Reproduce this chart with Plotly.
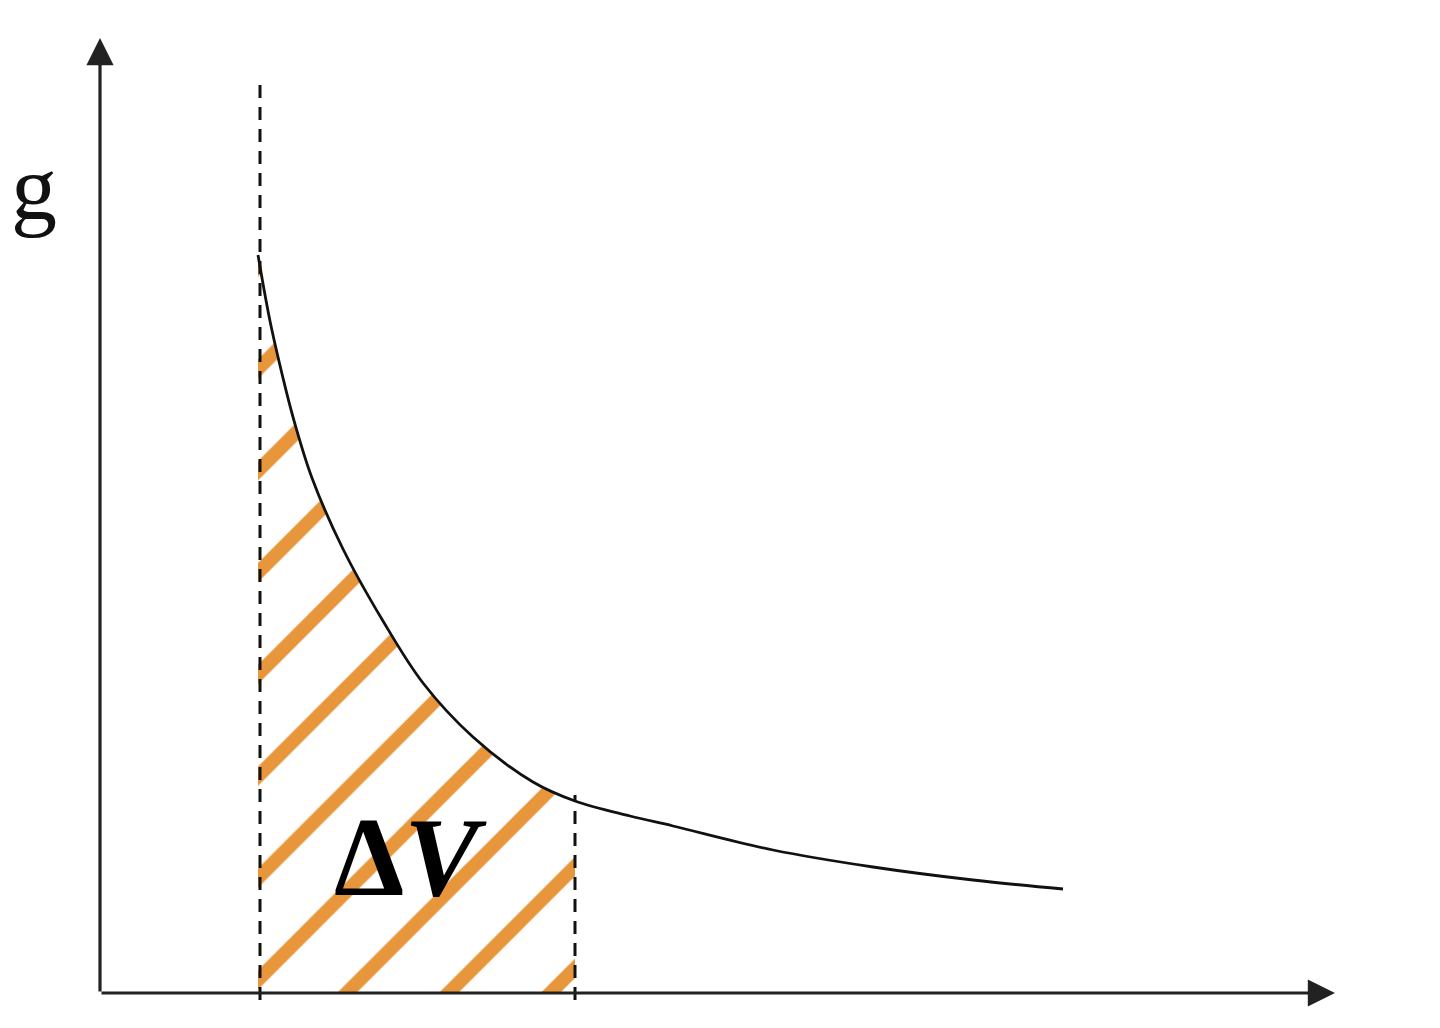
import plotly.graph_objects as go

# curve g(V) (arbitrary units)
V_CURVE = [1.58, 1.70, 1.83, 1.93, 2.12, 2.43, 2.83, 3.23, 3.73, 4.33, 4.75,
           5.30, 5.73, 6.73, 7.73, 8.73, 9.63]
G_CURVE = [7.38, 6.72, 6.15, 5.76, 5.15, 4.44, 3.72, 3.10, 2.56, 2.11, 1.92,
           1.77, 1.67, 1.43, 1.26, 1.13, 1.04]

# bounds of the shaded slice
V_LEFT = 1.60
V_RIGHT = 4.75
LEFT_TOP = 9.08
RIGHT_TOP = 1.98
DASH_BOTTOM = -0.07

# axis arrow ends
X_AXIS_END = 12.35
Y_AXIS_END = 9.55

ORANGE = "#E8963C"
SERIF = "Liberation Serif, Times New Roman, serif"

fig = go.Figure()

# hatched area under the curve between V_LEFT and V_RIGHT
fill_v = [v for v in V_CURVE if v <= V_RIGHT]
fill_g = G_CURVE[:len(fill_v)]
fig.add_trace(go.Scatter(
    x=fill_v, y=fill_g, mode="lines", fill="tozeroy",
    line=dict(width=0, shape="spline", smoothing=1.0), fillcolor="rgba(0,0,0,0)",
    fillpattern=dict(shape="/", size=72, solidity=0.19,
                     fgcolor=ORANGE, bgcolor="rgba(0,0,0,0)", fillmode="replace"),
    hoverinfo="skip",
))

# dashed bounds
for v, top in [(V_LEFT, LEFT_TOP), (V_RIGHT, RIGHT_TOP)]:
    fig.add_trace(go.Scatter(
        x=[v, v], y=[DASH_BOTTOM, top], mode="lines",
        line=dict(color="#111", width=3, dash="13px,9px"),
        hoverinfo="skip",
    ))

# the curve
fig.add_trace(go.Scatter(
    x=V_CURVE, y=G_CURVE, mode="lines",
    line=dict(color="#111", width=2.8, shape="spline", smoothing=1.0),
    hoverinfo="skip",
))

arrow = dict(showarrow=True, arrowhead=2, arrowsize=1.7, arrowwidth=3.2,
             arrowcolor="#222", axref="x", ayref="y", xref="x", yref="y", text="")
fig.add_annotation(x=X_AXIS_END, y=0, ax=0, ay=0, **arrow)
fig.add_annotation(x=0, y=Y_AXIS_END, ax=0, ay=0, **arrow)

fig.add_annotation(x=-0.66, y=8.05, xref="x", yref="y", showarrow=False,
                   text="g", font=dict(family=SERIF, size=92, color="#111"))
fig.add_annotation(x=3.1, y=1.36, xref="x", yref="y", showarrow=False,
                   text="<b>Δ<i>V</i></b>", font=dict(family=SERIF, size=112, color="#000"))

# ranges offset by the page margin so the origin lands where it should
fig.update_layout(
    width=1440, height=1028,
    margin=dict(l=0, r=0, t=0, b=0),
    paper_bgcolor="white", plot_bgcolor="white",
    showlegend=False,
    xaxis=dict(range=[-0.92, 13.48], visible=False, fixedrange=True),
    yaxis=dict(range=[-0.43, 9.85], visible=False, fixedrange=True),
)

fig.write_html("out.html")
